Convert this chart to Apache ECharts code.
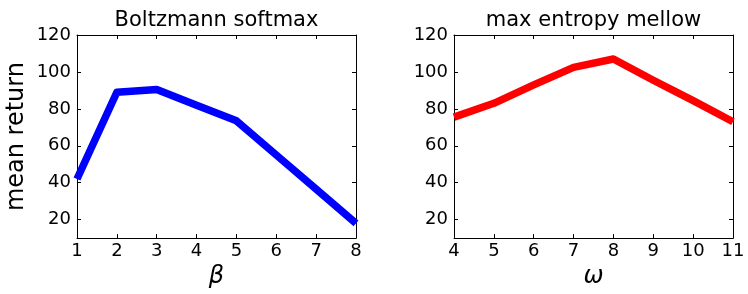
<!DOCTYPE html>
<html>
<head>
<meta charset="utf-8">
<script src="https://cdn.jsdelivr.net/npm/echarts@6/dist/echarts.min.js"></script>
<style>
  html, body { margin: 0; padding: 0; background: #fff; }
  #chart { width: 748px; height: 294px; }
</style>
</head>
<body>
<div id="chart"></div>
<script>
// ---- data ----
const beta = [1, 2, 3, 4, 5, 6, 7, 8];
const boltzmannReturn = [42, 89, 90.5, 82, 73.5, 55, 36.5, 18];
const omega = [4, 5, 6, 7, 8, 9, 10, 11];
const mellowReturn = [75.5, 83, 93, 102.5, 107, 95.5, 84.5, 73];
const yTicks = [20, 40, 60, 80, 100, 120];
const titles = ['Boltzmann softmax', 'max entropy mellow'];
const xNames = ['β', 'ω'];
const yName = 'mean return';

const FONT = 'DejaVu Sans';
const chart = echarts.init(document.getElementById('chart'), null, { renderer: 'canvas' });

const grids = [
  { left: 77, top: 35, width: 279, height: 204 },
  { left: 454, top: 35, width: 279, height: 204 }
];

const lineStyleAxis = { show: true, lineStyle: { color: '#000', width: 1 } };
const tickIn = { show: true, inside: true, length: 4, lineStyle: { color: '#000', width: 1 } };

function xAxes(gi, xs, name) {
  const min = xs[0], max = xs[xs.length - 1];
  return [
    {
      type: 'value', gridIndex: gi, position: 'bottom', min, max, interval: 1,
      axisLine: lineStyleAxis, axisTick: tickIn, splitLine: { show: false },
      axisLabel: { show: true, margin: 4, color: '#000', fontFamily: FONT, fontSize: 18 },
      name: name, nameLocation: 'middle', nameGap: 23,
      nameTextStyle: { fontFamily: FONT, fontStyle: 'italic', fontSize: 24, color: '#000' }
    },
    {
      type: 'value', gridIndex: gi, position: 'top', min, max, interval: 1,
      axisLine: lineStyleAxis, axisTick: tickIn, splitLine: { show: false },
      axisLabel: { show: false }
    }
  ];
}

function yAxes(gi, withName) {
  return [
    {
      type: 'value', gridIndex: gi, position: 'left', min: 10, max: 120,
      axisLine: lineStyleAxis,
      axisTick: Object.assign({}, tickIn, { customValues: yTicks }),
      splitLine: { show: false },
      axisLabel: {
        show: true, margin: 6, color: '#000', fontFamily: FONT, fontSize: 18,
        customValues: yTicks
      },
      name: withName ? yName : '', nameLocation: 'middle', nameGap: 48,
      nameTextStyle: { fontFamily: FONT, fontSize: 24, color: '#000' }
    },
    {
      type: 'value', gridIndex: gi, position: 'right', min: 10, max: 120,
      axisLine: lineStyleAxis,
      axisTick: Object.assign({}, tickIn, { customValues: yTicks }),
      splitLine: { show: false },
      axisLabel: { show: false, customValues: yTicks }
    }
  ];
}

const option = {
  backgroundColor: '#fff',
  animation: false,
  title: [
    { text: titles[0], left: 216.5, top: 10, padding: 0, textAlign: 'center',
      textStyle: { fontFamily: FONT, fontSize: 21, fontWeight: 'normal', color: '#000' } },
    { text: titles[1], left: 593.5, top: 10, padding: 0, textAlign: 'center',
      textStyle: { fontFamily: FONT, fontSize: 21, fontWeight: 'normal', color: '#000' } }
  ],
  grid: grids,
  xAxis: [...xAxes(0, beta, xNames[0]), ...xAxes(1, omega, xNames[1])],
  yAxis: [...yAxes(0, true), ...yAxes(1, false)],
  series: [
    {
      type: 'line', xAxisIndex: 0, yAxisIndex: 0,
      data: beta.map((b, i) => [b, boltzmannReturn[i]]),
      showSymbol: false, symbol: 'none', clip: true,
      lineStyle: { color: '#0000ff', width: 7.5, join: 'round', cap: 'butt' }
    },
    {
      type: 'line', xAxisIndex: 2, yAxisIndex: 2,
      data: omega.map((o, i) => [o, mellowReturn[i]]),
      showSymbol: false, symbol: 'none', clip: true,
      lineStyle: { color: '#ff0000', width: 7.5, join: 'round', cap: 'butt' }
    }
  ]
};
chart.setOption(option);
</script>
</body>
</html>
